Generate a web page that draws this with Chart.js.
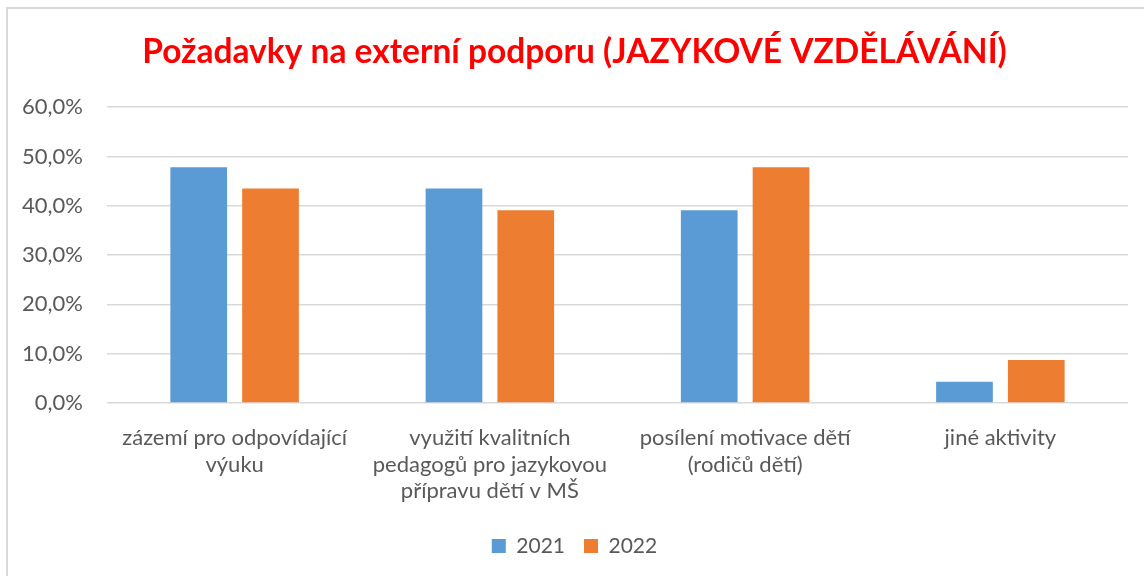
<!DOCTYPE html>
<html lang="cs">
<head>
<meta charset="UTF-8">
<title>Požadavky na externí podporu</title>
<script src="https://cdn.jsdelivr.net/npm/chart.js"></script>
<style>
  body { margin: 0; background: #fff; overflow: hidden; }
  .frame { position: absolute; left: 6px; top: 7px; width: 1200px; height: 620px; border: 2px solid #d9d9d9; }
  #chart { position: absolute; left: 0; top: 0; }
</style>
</head>
<body>
<div class="frame"></div>
<canvas id="chart" width="1144" height="576"></canvas>
<script>
const categories = [
  ['zázemí pro odpovídající', 'výuku'],
  ['využití kvalitních', 'pedagogů pro jazykovou', 'přípravu dětí v MŠ'],
  ['posílení motivace dětí', '(rodičů dětí)'],
  ['jiné aktivity']
];
const values2021 = [47.8, 43.5, 39.1, 4.3];
const values2022 = [43.5, 39.1, 47.8, 8.7];
const yTicks = [0, 10, 20, 30, 40, 50, 60];

const font = '"Lato", "Carlito", "Open Sans", sans-serif';
const grey = '#595959';

new Chart(document.getElementById('chart'), {
  type: 'bar',
  data: {
    labels: categories,
    datasets: [
      { label: '2021', data: values2021, backgroundColor: '#5b9bd5' },
      { label: '2022', data: values2022, backgroundColor: '#ed7d31' }
    ]
  },
  options: {
    responsive: false,
    animation: false,
    categoryPercentage: 0.5625,
    barPercentage: 0.79,
    layout: { padding: { left: 21, right: 16, top: 0, bottom: 9.5 } },
    plugins: {
      title: {
        display: true,
        text: 'Požadavky na externí podporu (JAZYKOVÉ VZDĚLÁVÁNÍ)',
        color: '#ff0000',
        font: { family: font, size: 33.5, weight: 'bold' },
        padding: { top: 32, bottom: 35 }
      },
      legend: {
        position: 'bottom',
        labels: {
          color: grey,
          font: { family: font, size: 21 },
          boxWidth: 14,
          boxHeight: 14,
          padding: 19
        }
      },
      tooltip: { enabled: false }
    },
    scales: {
      x: {
        grid: { display: false },
        border: { display: false },
        afterFit: (axis) => { axis.height = 113.5; },
        ticks: {
          color: grey,
          font: { family: font, size: 22, lineHeight: 1.2 },
          maxRotation: 0,
          padding: 14
        }
      },
      y: {
        min: 0,
        max: 60,
        afterBuildTicks: (axis) => { axis.ticks = yTicks.map(v => ({ value: v })); },
        afterFit: (axis) => { axis.width = 86; },
        grid: { color: '#d9d9d9', lineWidth: 1.5, drawTicks: false },
        border: { display: false },
        ticks: {
          color: grey,
          font: { family: font, size: 22 },
          padding: 24,
          callback: (v) => v.toFixed(1).replace('.', ',') + '%'
        }
      }
    }
  }
});
</script>
</body>
</html>
